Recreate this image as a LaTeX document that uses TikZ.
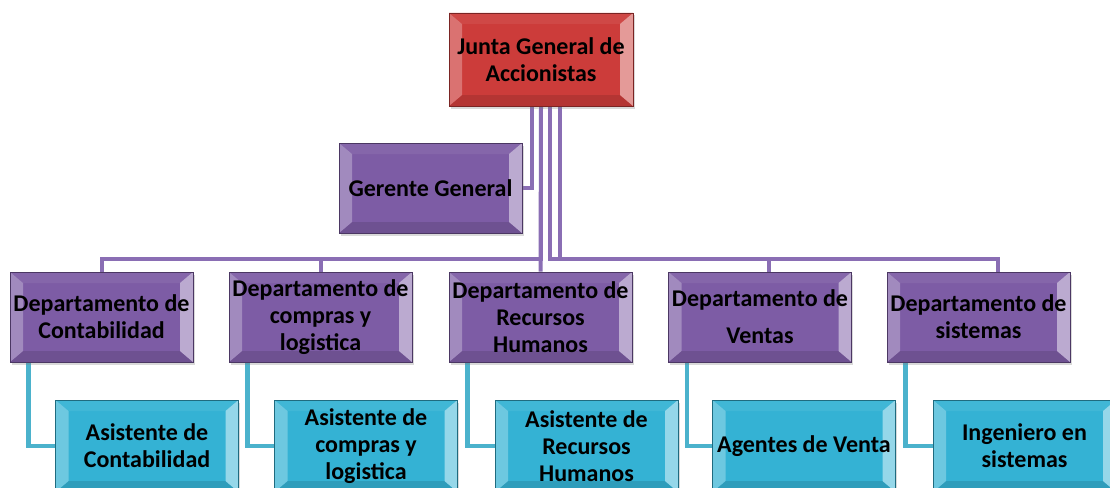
\documentclass[tikz,border=0pt]{standalone}
\usepackage{fontspec}
\setmainfont{Carlito}
\usetikzlibrary{shadows}
\definecolor{cred}{RGB}{204,60,58}
\definecolor{cpur}{RGB}{125,92,165}
\definecolor{ccya}{RGB}{52,178,212}
\definecolor{lpur}{RGB}{138,110,180}
\definecolor{lcya}{RGB}{75,178,204}
\pgfdeclarelayer{bg}
\pgfsetlayers{bg,main}
\tikzset{
  bevel/.style={
    fill=#1, draw=#1!60!black, line width=0.6pt,
    inner sep=0pt, align=center,
    font=\fontsize{24}{27}\selectfont\bfseries,
    drop shadow={opacity=0.3,shadow xshift=1.5pt,shadow yshift=-2.5pt},
    path picture={
      \path (path picture bounding box.north west) coordinate (pNW)
            (path picture bounding box.north east) coordinate (pNE)
            (path picture bounding box.south west) coordinate (pSW)
            (path picture bounding box.south east) coordinate (pSE);
      \fill[#1!94!white] (pNW) -- (pNE) -- ([xshift=-13pt,yshift=-11pt]pNE) -- ([xshift=13pt,yshift=-11pt]pNW) -- cycle;
      \fill[#1!88!black] (pSW) -- (pSE) -- ([xshift=-13pt,yshift=11pt]pSE) -- ([xshift=13pt,yshift=11pt]pSW) -- cycle;
      \fill[#1!72!white] (pNW) -- (pSW) -- ([xshift=13pt,yshift=11pt]pSW) -- ([xshift=13pt,yshift=-11pt]pNW) -- cycle;
      \fill[#1!52!white] (pNE) -- (pSE) -- ([xshift=-13pt,yshift=11pt]pSE) -- ([xshift=-13pt,yshift=-11pt]pNE) -- cycle;
    }
  },
  topbox/.style={bevel=cred, minimum width=184pt, minimum height=93pt},
  midbox/.style={bevel=cpur, minimum width=183pt, minimum height=90pt},
  lowbox/.style={bevel=ccya, minimum width=183pt, minimum height=92pt},
  pconn/.style={draw=lpur, line width=4pt},
  cconn/.style={draw=lcya, line width=4.5pt},
}
\begin{document}
\begin{tikzpicture}[x=1pt,y=-1pt]
\useasboundingbox (0,0) rectangle (1110,487);
\node[topbox] (junta) at (541,59.5) {Junta General de\\Accionistas};
\node[midbox] (gerente) at (430.5,188) {Gerente General};
\node[midbox] (contab) at (101.5,317) {Departamento de\\Contabilidad};
\node[midbox] (compras) at (320.5,317) {Departamento de\\compras y\\logistica};
\node[midbox] (rh) at (540.5,317) {Departamento de\\Recursos\\Humanos};
\node[midbox] (ventas) at (760,317) {Departamento de\\[10pt]Ventas};
\node[midbox] (sistemas) at (978.5,317) {Departamento de\\sistemas};
\node[lowbox] (acontab) at (147,446) {Asistente de\\Contabilidad};
\node[lowbox] (acompras) at (366,446) {Asistente de\\compras y\\logistica};
\node[lowbox] (arh) at (586.5,446) {Asistente de\\Recursos\\Humanos};
\node[lowbox] (aventas) at (804,446) {Agentes de Venta};
\node[lowbox] (asist) at (1024.5,446) {Ingeniero en\\sistemas};
\begin{pgfonlayer}{bg}
\coordinate (bus) at (0,259);
\coordinate (j1) at ([xshift=-9pt]junta.south);
\coordinate (j3) at ([xshift=9pt]junta.south);
\coordinate (j4) at ([xshift=19pt]junta.south);
\draw[pconn] (j1) |- (gerente.east);
\draw[pconn] (junta.south) -- (junta.south |- bus) -| (contab.north);
\draw[pconn] (junta.south) -- (junta.south |- bus) -| (compras.north);
\draw[pconn] (junta.south) -- (rh.north);
\draw[pconn] (j3) -- (j3 |- bus) -| ([xshift=9pt]ventas.north);
\draw[pconn] (j4) -- (j4 |- bus) -| ([xshift=19pt]sistemas.north);
\draw[cconn] ([xshift=19pt]contab.south west) |- (acontab.west);
\draw[cconn] ([xshift=19pt]compras.south west) |- (acompras.west);
\draw[cconn] ([xshift=19pt]rh.south west) |- (arh.west);
\draw[cconn] ([xshift=19pt]ventas.south west) |- (aventas.west);
\draw[cconn] ([xshift=19pt]sistemas.south west) |- (asist.west);
\end{pgfonlayer}
\end{tikzpicture}
\end{document}
